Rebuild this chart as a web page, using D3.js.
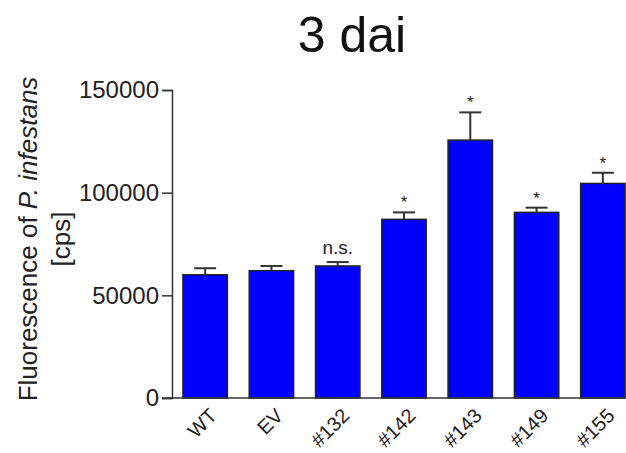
<!DOCTYPE html>
<html>
<head>
<meta charset="utf-8">
<script src="https://cdn.jsdelivr.net/npm/d3@7"></script>
<style>
  html, body { margin: 0; padding: 0; background: #fff; }
  svg { display: block; font-family: "Liberation Sans", Arial, sans-serif; }
</style>
</head>
<body>
<svg id="chart" width="626" height="453"></svg>
<script>
// Mean fluorescence per line, 3 days after inoculation
const categories = ["WT", "EV", "#132", "#142", "#143", "#149", "#155"];
const means = [60000, 62000, 64300, 87000, 125600, 90400, 104500];
const errors = [3200, 2300, 1900, 3400, 13500, 2300, 5200];
const marks = ["", "", "n.s.", "*", "*", "*", "*"];
const yTicks = [0, 50000, 100000, 150000];

const svg = d3.select("#chart");
const axisColor = "#333";
const textColor = "#222";

const x = d3.scaleBand()
  .domain(categories)
  .range([172, 636])
  .paddingInner(0.33)
  .paddingOuter(0.165);

const y = d3.scaleLinear()
  .domain([0, 150000])
  .range([398, 90]);

// Title
svg.append("text")
  .attr("x", 352).attr("y", 52)
  .attr("text-anchor", "middle")
  .attr("font-size", 50)
  .attr("fill", "#111")
  .text("3 dai");

// Bars
svg.append("g").selectAll("rect")
  .data(categories)
  .join("rect")
  .attr("x", d => x(d))
  .attr("width", x.bandwidth())
  .attr("y", (d, i) => y(means[i]))
  .attr("height", (d, i) => y(0) - y(means[i]))
  .attr("fill", "#0000ff")
  .attr("stroke", "#222")
  .attr("stroke-width", 1.5);

// Upper error bars
const capW = 22;
const eb = svg.append("g").attr("stroke", axisColor).attr("stroke-width", 2);
categories.forEach((c, i) => {
  const cx = x(c) + x.bandwidth() / 2;
  eb.append("line")
    .attr("x1", cx).attr("x2", cx)
    .attr("y1", y(means[i])).attr("y2", y(means[i] + errors[i]));
  eb.append("line")
    .attr("x1", cx - capW / 2).attr("x2", cx + capW / 2)
    .attr("y1", y(means[i] + errors[i])).attr("y2", y(means[i] + errors[i]));
});

// Significance marks
svg.append("g").selectAll("text")
  .data(categories)
  .join("text")
  .attr("x", d => x(d) + x.bandwidth() / 2)
  .attr("y", (d, i) => y(means[i] + errors[i]) - (marks[i] === "*" ? 4 : 8))
  .attr("text-anchor", "middle")
  .attr("font-size", (d, i) => marks[i] === "*" ? 17 : 19)
  .attr("fill", textColor)
  .text((d, i) => marks[i]);

// Y axis
const yAxis = svg.append("g")
  .attr("transform", "translate(172,0)")
  .call(d3.axisLeft(y).tickValues(yTicks).tickSize(10).tickPadding(3).tickFormat(d3.format("d")));
yAxis.select(".domain").attr("stroke", axisColor).attr("stroke-width", 1.5);
yAxis.selectAll(".tick line").attr("stroke", axisColor).attr("stroke-width", 1.5);
yAxis.selectAll(".tick text")
  .attr("font-size", 24)
  .attr("fill", textColor)
  .attr("font-family", "'Liberation Sans', Arial, sans-serif");

// X axis line
svg.append("line")
  .attr("x1", 162).attr("x2", 626)
  .attr("y1", y(0)).attr("y2", y(0))
  .attr("stroke", axisColor).attr("stroke-width", 1.5);

// Category labels, rotated
svg.append("g").selectAll("text")
  .data(categories)
  .join("text")
  .attr("transform", d => `translate(${x(d) + x.bandwidth() / 2 + 8},${y(0) + 14}) rotate(-45)`)
  .attr("text-anchor", "end")
  .attr("dy", "0.35em")
  .attr("font-size", 20)
  .attr("fill", textColor)
  .text(d => d);

// Y axis title
const yTitle = svg.append("text")
  .attr("transform", "translate(0,239) rotate(-90)")
  .attr("text-anchor", "middle")
  .attr("font-size", 26)
  .attr("fill", textColor);
yTitle.append("tspan").attr("x", 0).attr("y", 37)
  .text("Fluorescence of ")
  .append("tspan").attr("font-style", "italic").text("P. infestans");
yTitle.append("tspan").attr("x", 0).attr("y", 70).text("[cps]");
</script>
</body>
</html>
